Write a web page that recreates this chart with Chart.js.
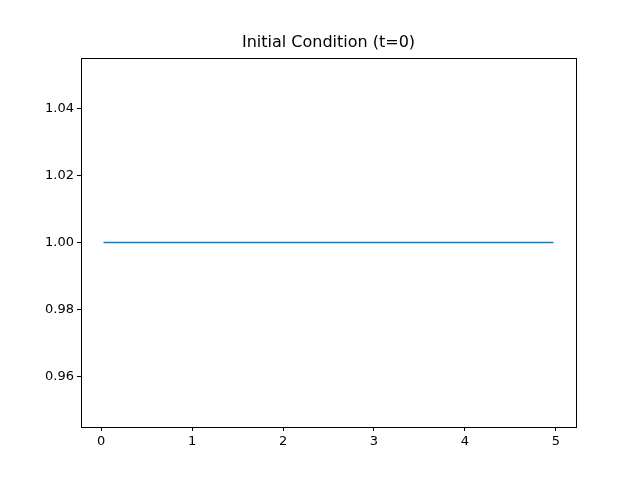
<!DOCTYPE html>
<html><head><script src="https://cdn.jsdelivr.net/npm/chart.js@4"></script>
<style>body{margin:0;background:#fff}#w{width:640px;height:480px}</style></head>
<body><div id="w"><canvas id="c"></canvas></div>
<script>
const xValues=[0.025,4.975];
const uValues=[1.0,1.0];
const xTicks=[0,1,2,3,4,5];
const yTicks=[0.96,0.98,1.00,1.02,1.04];
const titleText="Initial Condition (t=0)";
const font={family:"DejaVu Sans",size:13};
const frame={id:'frame',afterDraw(ch){const a=ch.chartArea,c=ch.ctx;c.save();c.strokeStyle='#000';c.lineWidth=1;
c.strokeRect(Math.round(a.left)+0.5,Math.round(a.top)+0.5,Math.round(a.right-a.left),Math.round(a.bottom-a.top));
c.fillStyle='#000';c.font='16px "DejaVu Sans"';c.textAlign='center';c.textBaseline='middle';c.fillText(titleText,(a.left+a.right)/2,43);c.restore();}};
new Chart(document.getElementById('c'),{type:'line',
data:{datasets:[{data:xValues.map((x,i)=>({x:x,y:uValues[i]})),borderColor:'#1f77b4',borderWidth:1.5,pointRadius:0,tension:0}]},
options:{responsive:true,maintainAspectRatio:false,animation:false,devicePixelRatio:1,
layout:{padding:{top:58,right:64,left:0,bottom:0}},
plugins:{legend:{display:false},tooltip:{enabled:false}},
scales:{
x:{type:'linear',min:-0.2225,max:5.2225,afterFit(s){s.height=53;},afterBuildTicks(s){s.ticks=xTicks.map(v=>({value:v}));},
grid:{drawOnChartArea:false,tickLength:4,color:'#000'},border:{display:false},
ticks:{color:'#000',font:font,padding:3,maxRotation:0,callback:v=>v.toString()}},
y:{type:'linear',min:0.945,max:1.055,afterFit(s){s.width=81;},afterBuildTicks(s){s.ticks=yTicks.map(v=>({value:v}));},
grid:{drawOnChartArea:false,tickLength:4,color:'#000'},border:{display:false},
ticks:{color:'#000',font:font,padding:3,callback:v=>v.toFixed(2)}}}},
plugins:[frame]});
</script></body></html>
